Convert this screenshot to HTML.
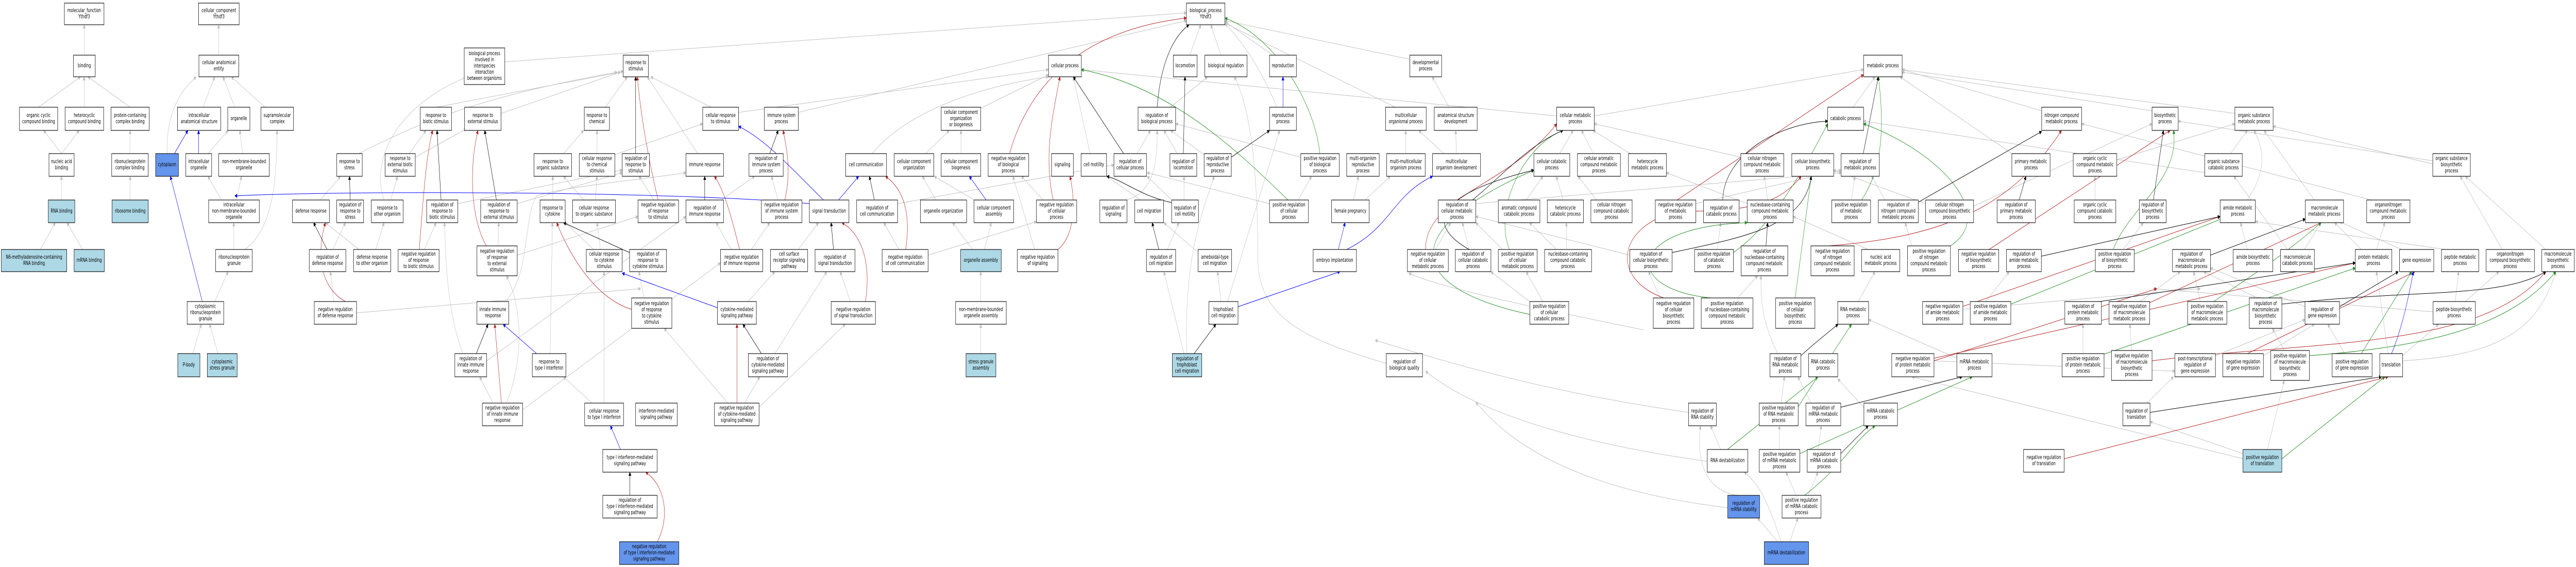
<!DOCTYPE html>
<html><head><meta charset="utf-8"><style>
html,body{margin:0;padding:0;background:#fff;width:100%;height:100%;overflow:hidden}
svg{display:block;position:absolute;left:0;top:0;width:100vw;height:100vh}
.nd rect{fill:#fff;stroke:#111;stroke-width:1.2}
.nd rect.lb{fill:#add8e6}.nd rect.bl{fill:#6495ed}
.nd text{font-family:"DejaVu Sans","Liberation Sans",sans-serif;font-size:10.5px;text-anchor:middle;dominant-baseline:central;fill:#000}
</style></head><body>
<svg viewBox="0 0 7680 1100" preserveAspectRatio="none" xmlns="http://www.w3.org/2000/svg">
<rect x="0" y="0" width="7680" height="1100" fill="#fff"/>
<defs>
<marker id="mg" markerWidth="8" markerHeight="8" refX="7" refY="4" orient="auto" markerUnits="userSpaceOnUse"><path d="M0,0L8,4L0,8z" fill="#c0c0c0"/></marker>
<marker id="mr" markerWidth="8" markerHeight="8" refX="7" refY="4" orient="auto" markerUnits="userSpaceOnUse"><path d="M0,0L8,4L0,8z" fill="#b22222"/></marker>
<marker id="mn" markerWidth="8" markerHeight="8" refX="7" refY="4" orient="auto" markerUnits="userSpaceOnUse"><path d="M0,0L8,4L0,8z" fill="#228b22"/></marker>
<marker id="mk" markerWidth="8" markerHeight="8" refX="7" refY="4" orient="auto" markerUnits="userSpaceOnUse"><path d="M0,0L8,4L0,8z" fill="#000"/></marker>
<marker id="mb" markerWidth="8" markerHeight="8" refX="7" refY="4" orient="auto" markerUnits="userSpaceOnUse"><path d="M0,0L8,4L0,8z" fill="#00f"/></marker>
</defs>
<g stroke="#c0c0c0" stroke-width="1" fill="none" marker-end="url(#mg)">
<line x1="251" y1="107" x2="251" y2="48"/><line x1="115" y1="208" x2="240" y2="149"/><line x1="251" y1="208" x2="251" y2="149"/><line x1="388" y1="208" x2="262" y2="149"/>
<line x1="183" y1="298" x2="130" y2="253"/><line x1="183" y1="298" x2="236" y2="253"/><line x1="387" y1="298" x2="388" y2="253"/><line x1="183" y1="388" x2="183" y2="342"/><line x1="388" y1="388" x2="388" y2="342"/>
<line x1="120" y1="484" x2="165" y2="432"/><line x1="246" y1="484" x2="200" y2="432"/>
<line x1="652" y1="107" x2="652" y2="48"/><line x1="605" y1="208" x2="640" y2="149"/><line x1="700" y1="208" x2="665" y2="149"/><line x1="790" y1="208" x2="690" y2="149"/>
<path d="M498,298 C495,200 560,165 585,149"/><line x1="620" y1="298" x2="680" y2="253"/><line x1="723" y1="298" x2="715" y2="253"/><line x1="660" y1="388" x2="620" y2="342"/><line x1="705" y1="388" x2="720" y2="342"/>
<line x1="697" y1="484" x2="697" y2="432"/><path d="M730,484 C800,450 826,380 826,253"/><line x1="640" y1="585" x2="680" y2="527"/><line x1="575" y1="686" x2="600" y2="629"/><line x1="650" y1="686" x2="625" y2="629"/>
<path d="M1070,298 C1300,220 1500,180 1840,140"/><line x1="955" y1="388" x2="1015" y2="342"/><line x1="1070" y1="484" x2="970" y2="432"/><line x1="1165" y1="388" x2="1185" y2="342"/>
<path d="M1145,388 C1100,300 1200,200 1390,150"/><line x1="1220" y1="298" x2="1270" y2="253"/><line x1="1238" y1="305" x2="1390" y2="250"/>
<line x1="992" y1="484" x2="1030" y2="432"/><line x1="1120" y1="484" x2="1145" y2="432"/><line x1="1265" y1="484" x2="1300" y2="432"/><line x1="995" y1="585" x2="985" y2="527"/>
<line x1="1063" y1="607" x2="1910" y2="560"/><line x1="1300" y1="208" x2="1850" y2="140"/><line x1="1505" y1="120" x2="3537" y2="25"/><line x1="1494" y1="220" x2="1858" y2="138"/>
<line x1="1365" y1="395" x2="1855" y2="330"/><line x1="1542" y1="395" x2="1855" y2="335"/><line x1="1485" y1="477" x2="1487" y2="432"/><line x1="1542" y1="495" x2="1902" y2="420"/>
<path d="M1505,585 C1580,540 1560,420 1600,380 C1700,360 1900,350 2045,335"/><path d="M1380,686 C1330,600 1330,500 1325,432"/><line x1="1451" y1="700" x2="2045" y2="420"/>
<line x1="1470" y1="782" x2="1430" y2="731"/><path d="M1510,782 C1560,700 1560,600 1510,535"/><line x1="1558" y1="795" x2="2148" y2="510"/>
<line x1="1640" y1="686" x2="1647" y2="432"/><line x1="1765" y1="782" x2="1680" y2="731"/><line x1="1801" y1="782" x2="1801" y2="527"/>
<line x1="1805" y1="208" x2="1870" y2="149"/><line x1="1680" y1="298" x2="1740" y2="253"/><line x1="1780" y1="298" x2="1780" y2="253"/><line x1="1833" y1="300" x2="2095" y2="240"/>
<line x1="1648" y1="388" x2="1648" y2="342"/><line x1="1740" y1="388" x2="1680" y2="342"/><line x1="1775" y1="388" x2="1780" y2="342"/><line x1="1790" y1="484" x2="1780" y2="432"/><line x1="1770" y1="484" x2="1685" y2="432"/>
<line x1="1920" y1="578" x2="1905" y2="527"/><line x1="1950" y1="388" x2="1905" y2="342"/><line x1="2120" y1="208" x2="1940" y2="149"/><line x1="2080" y1="298" x2="1930" y2="149"/>
<line x1="2202" y1="218" x2="3126" y2="135"/><line x1="2380" y1="218" x2="3537" y2="40"/><line x1="2150" y1="388" x2="2250" y2="342"/><line x1="2320" y1="388" x2="2300" y2="342"/>
<line x1="2180" y1="484" x2="2135" y2="432"/><line x1="2240" y1="484" x2="2295" y2="432"/><line x1="2380" y1="484" x2="2440" y2="432"/><line x1="2535" y1="585" x2="2505" y2="527"/>
<line x1="2230" y1="585" x2="2310" y2="527"/><line x1="2220" y1="782" x2="2265" y2="731"/><line x1="2263" y1="790" x2="2520" y2="629"/><line x1="2310" y1="686" x2="2465" y2="527"/><line x1="2170" y1="782" x2="1980" y2="637"/>
<line x1="2676" y1="395" x2="3321" y2="320"/><path d="M2600,298 C2700,220 2900,170 3126,149"/><line x1="2680" y1="484" x2="2635" y2="432"/><line x1="2767" y1="495" x2="3090" y2="430"/>
<line x1="3085" y1="484" x2="3020" y2="342"/><line x1="2924" y1="210" x2="3126" y2="145"/><line x1="2760" y1="298" x2="2830" y2="253"/><line x1="2865" y1="298" x2="2865" y2="253"/>
<line x1="2790" y1="388" x2="2750" y2="342"/><line x1="2905" y1="388" x2="2785" y2="342"/><line x1="2900" y1="484" x2="2840" y2="432"/><line x1="2935" y1="484" x2="2955" y2="432"/>
<line x1="2924" y1="585" x2="2924" y2="527"/><line x1="2924" y1="686" x2="2924" y2="629"/><line x1="3110" y1="388" x2="3045" y2="342"/>
<line x1="3547" y1="107" x2="3580" y2="48"/><line x1="3640" y1="107" x2="3610" y2="48"/><line x1="3795" y1="107" x2="3652" y2="42"/><path d="M3807,208 C3750,120 3700,80 3652,45"/>
<line x1="3490" y1="208" x2="3600" y2="149"/><line x1="3250" y1="298" x2="3200" y2="149"/><line x1="3390" y1="298" x2="3430" y2="253"/><line x1="3510" y1="298" x2="3470" y2="253"/>
<line x1="3590" y1="300" x2="3490" y2="253"/><line x1="3878" y1="305" x2="3505" y2="240"/><path d="M3360,388 C3440,370 3450,320 3450,253"/><line x1="3400" y1="388" x2="3300" y2="342"/>
<line x1="3493" y1="388" x2="3420" y2="342"/><line x1="3530" y1="388" x2="3530" y2="342"/><line x1="3870" y1="388" x2="3910" y2="342"/><line x1="3785" y1="395" x2="3420" y2="335"/>
<line x1="3480" y1="484" x2="3515" y2="432"/><line x1="3572" y1="490" x2="3470" y2="432"/><line x1="3640" y1="585" x2="3630" y2="527"/><line x1="3660" y1="585" x2="3815" y2="253"/>
<line x1="3530" y1="686" x2="3470" y2="527"/><path d="M3538,686 C3530,500 3580,420 3620,342"/><path d="M4133,705 C3900,660 3750,620 3750,500 C3750,300 3720,200 3680,149"/>
<line x1="4203" y1="115" x2="3652" y2="40"/><line x1="4160" y1="208" x2="3652" y2="45"/><line x1="4320" y1="208" x2="4270" y2="149"/><line x1="4191" y1="298" x2="4191" y2="253"/>
<line x1="4342" y1="298" x2="4340" y2="253"/><line x1="4305" y1="298" x2="4230" y2="253"/><line x1="4035" y1="388" x2="4050" y2="342"/><line x1="4070" y1="388" x2="4145" y2="342"/>
<line x1="4641" y1="225" x2="3224" y2="135"/><line x1="4753" y1="225" x2="5556" y2="135"/><line x1="4650" y1="298" x2="4690" y2="253"/><line x1="4400" y1="395" x2="5489" y2="335"/>
<line x1="4550" y1="388" x2="4600" y2="342"/><line x1="4660" y1="388" x2="4640" y2="342"/><line x1="4280" y1="484" x2="4325" y2="432"/><line x1="4380" y1="484" x2="4360" y2="432"/>
<line x1="4480" y1="484" x2="4400" y2="432"/><line x1="4670" y1="484" x2="4670" y2="432"/><line x1="4640" y1="484" x2="4560" y2="432"/><line x1="4600" y1="585" x2="4550" y2="527"/><line x1="4570" y1="590" x2="4445" y2="527"/>
<line x1="4750" y1="298" x2="4715" y2="253"/><line x1="4860" y1="298" x2="4750" y2="253"/><line x1="5190" y1="305" x2="4753" y2="240"/><line x1="4760" y1="388" x2="4705" y2="342"/>
<line x1="5056" y1="395" x2="5489" y2="330"/><line x1="5270" y1="388" x2="5260" y2="342"/><line x1="5209" y1="395" x2="4968" y2="335"/><line x1="4859" y1="495" x2="4400" y2="420"/>
<line x1="5120" y1="484" x2="5130" y2="432"/><line x1="4950" y1="578" x2="4915" y2="527"/><line x1="5180" y1="578" x2="5240" y2="535"/><path d="M5300,686 C5250,620 5250,580 5250,535"/>
<line x1="5310" y1="782" x2="5320" y2="731"/><line x1="5400" y1="782" x2="5360" y2="731"/><line x1="5130" y1="872" x2="5100" y2="826"/><line x1="5420" y1="872" x2="5430" y2="826"/><line x1="5305" y1="872" x2="5305" y2="826"/>
<path d="M5180,961 C5070,950 5060,880 5070,826"/><line x1="5355" y1="961" x2="5325" y2="916"/><line x1="5390" y1="961" x2="5420" y2="916"/><line x1="5300" y1="1051" x2="5240" y2="1005"/>
<line x1="5336" y1="1051" x2="5360" y2="1005"/><path d="M5310,1051 C5280,990 5250,940 5200,916"/>
<path d="M4900,640 C4600,600 4300,560 4200,530"/><path d="M5034,800 C4600,760 4300,700 4100,660"/><path d="M5090,895 C4700,860 4400,800 4250,720"/><path d="M5151,985 C4700,950 4500,860 4400,780"/>
<line x1="5525" y1="208" x2="5590" y2="149"/><line x1="6087" y1="215" x2="5671" y2="135"/><line x1="5998" y1="298" x2="5665" y2="149"/><line x1="6416" y1="215" x2="5671" y2="140"/><line x1="6663" y1="220" x2="5671" y2="135"/>
<line x1="5520" y1="388" x2="5530" y2="342"/><line x1="5620" y1="388" x2="5580" y2="342"/><line x1="5570" y1="484" x2="5346" y2="420"/><line x1="5700" y1="477" x2="5680" y2="432"/>
<line x1="5540" y1="585" x2="5590" y2="527"/><line x1="5920" y1="585" x2="5990" y2="527"/><line x1="5834" y1="695" x2="5571" y2="620"/><line x1="5557" y1="790" x2="5479" y2="735"/>
<line x1="5741" y1="395" x2="5467" y2="330"/><line x1="5884" y1="400" x2="6416" y2="240"/><line x1="5852" y1="600" x2="6560" y2="560"/><line x1="5766" y1="700" x2="6484" y2="720"/>
<line x1="6400" y1="782" x2="6480" y2="731"/><line x1="6687" y1="880" x2="6410" y2="818"/><line x1="6760" y1="872" x2="6810" y2="738"/><line x1="6687" y1="890" x2="5700" y2="731"/>
<line x1="6311" y1="310" x2="6663" y2="240"/><line x1="6650" y1="298" x2="6700" y2="253"/><line x1="6246" y1="388" x2="6246" y2="342"/><line x1="6573" y1="335" x2="5556" y2="235"/>
<path d="M6700,388 C6760,330 6750,290 6720,253"/><line x1="6900" y1="388" x2="6750" y2="253"/><line x1="6330" y1="484" x2="6390" y2="432"/><line x1="6700" y1="484" x2="6680" y2="432"/>
<line x1="6870" y1="484" x2="6920" y2="432"/><line x1="6820" y1="484" x2="6660" y2="342"/><line x1="6380" y1="585" x2="6500" y2="527"/><line x1="6560" y1="585" x2="6540" y2="527"/>
<line x1="6730" y1="578" x2="6570" y2="527"/><line x1="6872" y1="595" x2="6590" y2="520"/><line x1="6210" y1="686" x2="6210" y2="629"/><line x1="6355" y1="680" x2="6350" y2="629"/>
<line x1="6605" y1="690" x2="6872" y2="620"/><line x1="6748" y1="690" x2="6900" y2="629"/><line x1="6810" y1="680" x2="6775" y2="637"/>
<line x1="7253" y1="312" x2="6494" y2="235"/><line x1="7253" y1="318" x2="6777" y2="245"/><line x1="7070" y1="388" x2="6206" y2="240"/><line x1="7040" y1="484" x2="6960" y2="432"/><line x1="7085" y1="484" x2="7110" y2="432"/>
<line x1="7160" y1="484" x2="6975" y2="430"/><line x1="7290" y1="484" x2="6724" y2="430"/><line x1="7460" y1="484" x2="7335" y2="342"/><line x1="7590" y1="484" x2="7350" y2="342"/>
<line x1="7320" y1="585" x2="7330" y2="527"/><line x1="7350" y1="585" x2="7450" y2="527"/><line x1="6990" y1="686" x2="6940" y2="629"/><line x1="7120" y1="686" x2="7085" y2="527"/>
<line x1="7163" y1="690" x2="7270" y2="629"/><path d="M7163,700 C7400,690 7560,660 7620,527"/><line x1="7254" y1="605" x2="6420" y2="560"/>
</g>
<g stroke="#b22222" stroke-width="1" fill="none" marker-end="url(#mr)">
<path d="M1030,585 C960,560 940,500 970,432"/><path d="M1250,484 C1260,400 1270,300 1290,253"/><path d="M1450,477 C1400,420 1400,320 1425,253"/><line x1="1495" y1="782" x2="1475" y2="629"/>
<path d="M1883,600 C1780,580 1700,500 1660,432"/><path d="M2340,388 C2360,330 2345,290 2335,253"/><path d="M2205,484 C2180,420 2160,370 2130,342"/><path d="M2580,585 C2600,500 2560,450 2510,432"/>
<line x1="2197" y1="782" x2="2197" y2="629"/><path d="M1960,1051 C2000,1000 1980,940 1925,916"/><path d="M2700,484 C2720,400 2680,360 2640,342"/><path d="M3010,298 C3060,180 3200,60 3537,35"/>
<path d="M3140,388 C3110,300 3140,220 3160,149"/><path d="M3154,484 C3200,460 3210,400 3190,342"/><line x1="5000" y1="388" x2="5556" y2="145"/><path d="M4250,484 C4250,380 4500,360 4641,240"/>
<path d="M4960,578 C4800,540 4820,440 5000,410 C5200,410 5300,400 5370,342"/><path d="M5450,477 C5800,460 6000,400 6146,253"/><line x1="5930" y1="484" x2="6470" y2="253"/><line x1="5850" y1="595" x2="6619" y2="420"/>
<line x1="5766" y1="695" x2="7022" y2="510"/><line x1="6400" y1="590" x2="6920" y2="432"/><path d="M6416,700 C6900,660 7400,680 7590,527"/><line x1="6700" y1="686" x2="7200" y2="527"/>
<line x1="6154" y1="890" x2="7120" y2="731"/><path d="M1962,388 C1930,300 1910,220 1900,149"/><line x1="5766" y1="700" x2="6430" y2="560"/>
</g>
<g stroke="#228b22" stroke-width="1" fill="none" marker-end="url(#mn)">
<path d="M3935,298 C3920,200 3800,70 3652,35"/><path d="M3840,388 C3700,300 3500,170 3224,135"/><path d="M4500,484 C4450,400 4550,280 4660,253"/><path d="M4561,610 C4200,560 4150,450 4573,330"/>
<path d="M5100,578 C4830,560 4850,440 5209,432"/><line x1="5352" y1="578" x2="5400" y2="342"/><path d="M5550,388 C5610,330 5620,250 5600,149"/><path d="M5815,477 C5950,420 5800,300 5556,240"/>
<line x1="5360" y1="790" x2="5520" y2="629"/><line x1="5366" y1="880" x2="5880" y2="731"/><path d="M5380,961 C5500,900 5520,860 5590,826"/><line x1="5150" y1="872" x2="5420" y2="731"/>
<path d="M6300,484 C6350,400 6500,350 6480,253"/><path d="M6600,585 C6700,540 6800,500 6920,432"/><line x1="5995" y1="590" x2="6640" y2="420"/><line x1="6260" y1="690" x2="7022" y2="520"/>
<path d="M6885,690 C7300,670 7500,620 7620,527"/><line x1="7040" y1="686" x2="7190" y2="527"/><line x1="6803" y1="890" x2="7110" y2="731"/><path d="M5168,490 C5300,430 5400,300 5449,240"/>
</g>
<g stroke="#000" stroke-width="1" fill="none" marker-end="url(#mk)">
<line x1="975" y1="484" x2="935" y2="432"/><line x1="1044" y1="388" x2="1042" y2="342"/><line x1="1315" y1="388" x2="1303" y2="253"/><line x1="1480" y1="388" x2="1445" y2="253"/>
<line x1="1420" y1="686" x2="1455" y2="629"/><line x1="1895" y1="298" x2="1895" y2="149"/><line x1="1877" y1="490" x2="1680" y2="432"/><line x1="1878" y1="961" x2="1878" y2="916"/>
<line x1="2101" y1="388" x2="2101" y2="342"/><line x1="2295" y1="298" x2="2320" y2="253"/><line x1="2485" y1="484" x2="2478" y2="432"/><line x1="2270" y1="686" x2="2215" y2="629"/>
<line x1="2607" y1="388" x2="2592" y2="342"/><path d="M3450,208 C3460,120 3500,70 3545,48"/><line x1="3350" y1="298" x2="3200" y2="149"/><line x1="3528" y1="298" x2="3533" y2="149"/>
<line x1="3671" y1="305" x2="3785" y2="253"/><path d="M3493,393 C3400,380 3350,350 3300,342"/><line x1="3455" y1="484" x2="3435" y2="432"/><line x1="3560" y1="686" x2="3625" y2="629"/>
<path d="M4390,388 C4480,340 4560,280 4660,253"/><path d="M4380,484 C4260,440 4260,380 4573,330"/><line x1="5555" y1="298" x2="5600" y2="149"/><line x1="5720" y1="392" x2="6087" y2="255"/>
<line x1="6020" y1="388" x2="6040" y2="342"/><path d="M5136,388 C5140,300 5300,240 5449,235"/><path d="M4985,490 C5200,460 5380,440 5400,342"/><line x1="5265" y1="477" x2="5270" y2="432"/>
<path d="M5369,690 C5420,660 5460,640 5480,629"/><line x1="6086" y1="497" x2="6619" y2="420"/><line x1="6420" y1="388" x2="6450" y2="253"/><line x1="6590" y1="495" x2="6873" y2="425"/>
<line x1="6260" y1="585" x2="7022" y2="510"/><line x1="6975" y1="595" x2="7150" y2="527"/><line x1="6410" y1="800" x2="7100" y2="731"/><path d="M6803,590 C7200,560 7450,580 7590,527"/>
<line x1="5488" y1="790" x2="5850" y2="731"/><line x1="5488" y1="880" x2="5570" y2="826"/>
</g>
<g stroke="#0000ff" stroke-width="1" fill="none" marker-end="url(#mb)">
<line x1="520" y1="298" x2="560" y2="253"/><line x1="592" y1="298" x2="592" y2="253"/><line x1="603" y1="585" x2="508" y2="342"/>
<line x1="1600" y1="686" x2="1500" y2="629"/><line x1="1850" y1="872" x2="1820" y2="826"/><line x1="2139" y1="597" x2="1855" y2="530"/><path d="M2455,388 C2350,320 2280,270 2202,245"/>
<line x1="2500" y1="388" x2="2560" y2="342"/><line x1="2940" y1="388" x2="2890" y2="342"/><line x1="3825" y1="208" x2="3825" y2="149"/><line x1="3990" y1="484" x2="4010" y2="432"/>
<path d="M4015,484 C4150,440 4150,380 4271,342"/><line x1="3691" y1="595" x2="3995" y2="527"/><path d="M7130,686 C7160,640 7180,580 7195,527"/><path d="M2413,395 C2000,370 1000,370 700,380"/>
</g>

<g class="nd">
<rect x="192" y="6" width="118" height="42"/><text x="251" y="21">molecular_function<tspan x="251" dy="12">Ythdf3</tspan></text>
<rect x="219" y="107" width="65" height="42"/><text x="251.5" y="128">binding</text>
<rect x="58" y="208" width="114" height="45"/><text x="115" y="224.5">organic cyclic<tspan x="115" dy="12">compound binding</tspan></text>
<rect x="194" y="208" width="115" height="45"/><text x="251.5" y="224.5">heterocyclic<tspan x="251.5" dy="12">compound binding</tspan></text>
<rect x="331" y="208" width="114" height="45"/><text x="388" y="224.5">protein-containing<tspan x="388" dy="12">complex binding</tspan></text>
<rect x="146" y="298" width="75" height="44"/><text x="183.5" y="314">nucleic acid<tspan x="183.5" dy="12">binding</tspan></text>
<rect x="333" y="298" width="109" height="44"/><text x="387.5" y="314">ribonucleoprotein<tspan x="387.5" dy="12">complex binding</tspan></text>
<rect class="lb" x="144" y="388" width="79" height="44"/><text x="183.5" y="410">RNA binding</text>
<rect class="lb" x="334" y="388" width="108" height="44"/><text x="388" y="410">ribosome binding</text>
<rect class="lb" x="4" y="484" width="195" height="43"/><text x="101.5" y="499.5">N6-methyladenosine-containing<tspan x="101.5" dy="12">RNA binding</tspan></text>
<rect class="lb" x="221" y="484" width="90" height="43"/><text x="266" y="505.5">mRNA binding</text>
<rect x="592" y="6" width="121" height="42"/><text x="652.5" y="21">cellular_component<tspan x="652.5" dy="12">Ythdf3</tspan></text>
<rect x="593" y="107" width="119" height="42"/><text x="652.5" y="122">cellular anatomical<tspan x="652.5" dy="12">entity</tspan></text>
<rect x="529" y="208" width="129" height="45"/><text x="593.5" y="224.5">intracellular<tspan x="593.5" dy="12">anatomical structure</tspan></text>
<rect x="679" y="208" width="66" height="45"/><text x="712" y="230.5">organelle</text>
<rect x="778" y="208" width="97" height="45"/><text x="826.5" y="224.5">supramolecular<tspan x="826.5" dy="12">complex</tspan></text>
<rect class="bl" x="464" y="298" width="68" height="44"/><text x="498" y="320">cytoplasm</text>
<rect x="554" y="298" width="77" height="44"/><text x="592.5" y="314">intracellular<tspan x="592.5" dy="12">organelle</tspan></text>
<rect x="652" y="298" width="151" height="44"/><text x="727.5" y="314">non-membrane-bounded<tspan x="727.5" dy="12">organelle</tspan></text>
<rect x="622" y="388" width="151" height="44"/><text x="697.5" y="398">intracellular<tspan x="697.5" dy="12">non-membrane-bounded</tspan><tspan x="697.5" dy="12">organelle</tspan></text>
<rect x="643" y="484" width="109" height="43"/><text x="697.5" y="499.5">ribonucleoprotein<tspan x="697.5" dy="12">granule</tspan></text>
<rect x="558" y="585" width="109" height="44"/><text x="612.5" y="595">cytoplasmic<tspan x="612.5" dy="12">ribonucleoprotein</tspan><tspan x="612.5" dy="12">granule</tspan></text>
<rect class="lb" x="530" y="686" width="66" height="45"/><text x="563" y="708.5">P-body</text>
<rect class="lb" x="618" y="686" width="89" height="45"/><text x="662.5" y="702.5">cytoplasmic<tspan x="662.5" dy="12">stress granule</tspan></text>

<rect x="1004" y="298" width="76" height="44"/><text x="1042" y="314">response to<tspan x="1042" dy="12">stress</tspan></text>
<rect x="872" y="388" width="110" height="44"/><text x="927" y="410">defense response</text>
<rect x="1004" y="388" width="80" height="44"/><text x="1044" y="398">regulation of<tspan x="1044" dy="12">response to</tspan><tspan x="1044" dy="12">stress</tspan></text>
<rect x="1148" y="298" width="90" height="44"/><text x="1193" y="308">response to<tspan x="1193" dy="12">external biotic</tspan><tspan x="1193" dy="12">stimulus</tspan></text>
<rect x="1107" y="388" width="95" height="44"/><text x="1154.5" y="404">response to<tspan x="1154.5" dy="12">other organism</tspan></text>
<rect x="922" y="484" width="109" height="43"/><text x="976.5" y="499.5">regulation of<tspan x="976.5" dy="12">defense response</tspan></text>
<rect x="1054" y="484" width="111" height="43"/><text x="1109.5" y="499.5">defense response<tspan x="1109.5" dy="12">to other organism</tspan></text>
<rect x="1187" y="484" width="122" height="43"/><text x="1248" y="493.5">negative regulation<tspan x="1248" dy="12">of response</tspan><tspan x="1248" dy="12">to biotic stimulus</tspan></text>
<rect x="937" y="585" width="126" height="44"/><text x="1000" y="601">negative regulation<tspan x="1000" dy="12">of defense response</tspan></text>
<rect x="1253" y="208" width="93" height="45"/><text x="1299.5" y="224.5">response to<tspan x="1299.5" dy="12">biotic stimulus</tspan></text>
<rect x="1272" y="388" width="93" height="44"/><text x="1318.5" y="398">regulation of<tspan x="1318.5" dy="12">response to</tspan><tspan x="1318.5" dy="12">biotic stimulus</tspan></text>
<rect x="1384" y="93" width="121" height="71"/><text x="1444.5" y="104.5">biological process<tspan x="1444.5" dy="12">involved in</tspan><tspan x="1444.5" dy="12">interspecies</tspan><tspan x="1444.5" dy="12">interaction</tspan><tspan x="1444.5" dy="12">between organisms</tspan></text>
<rect x="1385" y="208" width="109" height="45"/><text x="1439.5" y="224.5">response to<tspan x="1439.5" dy="12">external stimulus</tspan></text>
<rect x="1858" y="107" width="75" height="42"/><text x="1895.5" y="122">response to<tspan x="1895.5" dy="12">stimulus</tspan></text>
<rect x="1742" y="208" width="75" height="45"/><text x="1779.5" y="224.5">response to<tspan x="1779.5" dy="12">chemical</tspan></text>
<rect x="1592" y="298" width="112" height="44"/><text x="1648" y="314">response to<tspan x="1648" dy="12">organic substance</tspan></text>
<rect x="1727" y="298" width="106" height="44"/><text x="1780" y="308">cellular response<tspan x="1780" dy="12">to chemical</tspan><tspan x="1780" dy="12">stimulus</tspan></text>
<rect x="1855" y="298" width="81" height="44"/><text x="1895.5" y="308">regulation of<tspan x="1895.5" dy="12">response to</tspan><tspan x="1895.5" dy="12">stimulus</tspan></text>
<rect x="1433" y="388" width="109" height="44"/><text x="1487.5" y="398">regulation of<tspan x="1487.5" dy="12">response to</tspan><tspan x="1487.5" dy="12">external stimulus</tspan></text>
<rect x="1610" y="388" width="75" height="44"/><text x="1647.5" y="404">response to<tspan x="1647.5" dy="12">cytokine</tspan></text>
<rect x="1707" y="388" width="128" height="44"/><text x="1771" y="404">cellular response<tspan x="1771" dy="12">to organic substance</tspan></text>
<rect x="1902" y="388" width="121" height="44"/><text x="1962.5" y="398">negative regulation<tspan x="1962.5" dy="12">of response</tspan><tspan x="1962.5" dy="12">to stimulus</tspan></text>
<rect x="1422" y="477" width="120" height="58"/><text x="1482" y="488">negative regulation<tspan x="1482" dy="12">of response</tspan><tspan x="1482" dy="12">to external</tspan><tspan x="1482" dy="12">stimulus</tspan></text>
<rect x="1748" y="484" width="107" height="43"/><text x="1801.5" y="493.5">cellular response<tspan x="1801.5" dy="12">to cytokine</tspan><tspan x="1801.5" dy="12">stimulus</tspan></text>
<rect x="1877" y="484" width="110" height="43"/><text x="1932" y="493.5">regulation of<tspan x="1932" dy="12">response to</tspan><tspan x="1932" dy="12">cytokine stimulus</tspan></text>
<rect x="1422" y="585" width="95" height="44"/><text x="1469.5" y="601">innate immune<tspan x="1469.5" dy="12">response</tspan></text>
<rect x="1883" y="578" width="120" height="59"/><text x="1943" y="589.5">negative regulation<tspan x="1943" dy="12">of response</tspan><tspan x="1943" dy="12">to cytokine</tspan><tspan x="1943" dy="12">stimulus</tspan></text>
<rect x="1356" y="686" width="95" height="45"/><text x="1403.5" y="696.5">regulation of<tspan x="1403.5" dy="12">innate immune</tspan><tspan x="1403.5" dy="12">response</tspan></text>
<rect x="1587" y="686" width="100" height="45"/><text x="1637" y="702.5">response to<tspan x="1637" dy="12">type I interferon</tspan></text>
<rect x="1438" y="782" width="120" height="44"/><text x="1498" y="792">negative regulation<tspan x="1498" dy="12">of innate immune</tspan><tspan x="1498" dy="12">response</tspan></text>
<rect x="1743" y="782" width="116" height="44"/><text x="1801" y="798">cellular response<tspan x="1801" dy="12">to type I interferon</tspan></text>
<rect x="1895" y="782" width="124" height="44"/><text x="1957" y="798">interferon-mediated<tspan x="1957" dy="12">signaling pathway</tspan></text>
<rect x="1797" y="872" width="162" height="44"/><text x="1878" y="888">type I interferon-mediated<tspan x="1878" dy="12">signaling pathway</tspan></text>
<rect x="1797" y="961" width="162" height="44"/><text x="1878" y="971">regulation of<tspan x="1878" dy="12">type I interferon-mediated</tspan><tspan x="1878" dy="12">signaling pathway</tspan></text>
<rect class="bl" x="1847" y="1051" width="177" height="44"/><text x="1935.5" y="1061">negative regulation<tspan x="1935.5" dy="12">of type I interferon-mediated</tspan><tspan x="1935.5" dy="12">signaling pathway</tspan></text>

<rect x="2095" y="208" width="107" height="45"/><text x="2148.5" y="224.5">cellular response<tspan x="2148.5" dy="12">to stimulus</tspan></text>
<rect x="2279" y="208" width="101" height="45"/><text x="2329.5" y="224.5">immune system<tspan x="2329.5" dy="12">process</tspan></text>
<rect x="2045" y="298" width="112" height="44"/><text x="2101" y="320">immune response</text>
<rect x="2233" y="298" width="102" height="44"/><text x="2284" y="308">regulation of<tspan x="2284" dy="12">immune system</tspan><tspan x="2284" dy="12">process</tspan></text>
<rect x="2521" y="298" width="122" height="44"/><text x="2582" y="320">cell communication</text>
<rect x="2045" y="388" width="112" height="44"/><text x="2101" y="404">regulation of<tspan x="2101" dy="12">immune response</tspan></text>
<rect x="2270" y="388" width="121" height="44"/><text x="2330.5" y="398">negative regulation<tspan x="2330.5" dy="12">of immune system</tspan><tspan x="2330.5" dy="12">process</tspan></text>
<rect x="2413" y="388" width="118" height="44"/><text x="2472" y="410">signal transduction</text>
<rect x="2554" y="388" width="122" height="44"/><text x="2615" y="404">regulation of<tspan x="2615" dy="12">cell communication</tspan></text>
<rect x="2148" y="484" width="126" height="43"/><text x="2211" y="499.5">negative regulation<tspan x="2211" dy="12">of immune response</tspan></text>
<rect x="2297" y="484" width="111" height="43"/><text x="2352.5" y="493.5">cell surface<tspan x="2352.5" dy="12">receptor signaling</tspan><tspan x="2352.5" dy="12">pathway</tspan></text>
<rect x="2430" y="484" width="119" height="43"/><text x="2489.5" y="499.5">regulation of<tspan x="2489.5" dy="12">signal transduction</tspan></text>
<rect x="2139" y="585" width="116" height="44"/><text x="2197" y="601">cytokine-mediated<tspan x="2197" dy="12">signaling pathway</tspan></text>
<rect x="2478" y="585" width="132" height="44"/><text x="2544" y="601">negative regulation<tspan x="2544" dy="12">of signal transduction</tspan></text>
<rect x="2231" y="686" width="117" height="45"/><text x="2289.5" y="696.5">regulation of<tspan x="2289.5" dy="12">cytokine-mediated</tspan><tspan x="2289.5" dy="12">signaling pathway</tspan></text>
<rect x="2130" y="782" width="133" height="44"/><text x="2196.5" y="792">negative regulation<tspan x="2196.5" dy="12">of cytokine-mediated</tspan><tspan x="2196.5" dy="12">signaling pathway</tspan></text>

<rect x="2806" y="208" width="118" height="45"/><text x="2865" y="218.5">cellular component<tspan x="2865" dy="12">organization</tspan><tspan x="2865" dy="12">or biogenesis</tspan></text>
<rect x="3126" y="107" width="98" height="42"/><text x="3175" y="128">cellular process</text>
<rect x="2666" y="298" width="118" height="44"/><text x="2725" y="314">cellular component<tspan x="2725" dy="12">organization</tspan></text>
<rect x="2806" y="298" width="118" height="44"/><text x="2865" y="314">cellular component<tspan x="2865" dy="12">biogenesis</tspan></text>
<rect x="2946" y="298" width="121" height="44"/><text x="3006.5" y="308">negative regulation<tspan x="3006.5" dy="12">of biological</tspan><tspan x="3006.5" dy="12">process</tspan></text>
<rect x="3135" y="298" width="65" height="44"/><text x="3167.5" y="320">signaling</text>
<rect x="2744" y="388" width="138" height="44"/><text x="2813" y="410">organelle organization</text>
<rect x="2904" y="388" width="118" height="44"/><text x="2963" y="404">cellular component<tspan x="2963" dy="12">assembly</tspan></text>
<rect x="3090" y="388" width="120" height="44"/><text x="3150" y="398">negative regulation<tspan x="3150" dy="12">of cellular</tspan><tspan x="3150" dy="12">process</tspan></text>
<rect x="2630" y="484" width="137" height="43"/><text x="2698.5" y="499.5">negative regulation<tspan x="2698.5" dy="12">of cell communication</tspan></text>
<rect class="lb" x="2864" y="484" width="121" height="43"/><text x="2924.5" y="505.5">organelle assembly</text>
<rect x="3033" y="484" width="121" height="43"/><text x="3093.5" y="499.5">negative regulation<tspan x="3093.5" dy="12">of signaling</tspan></text>
<rect x="2849" y="585" width="151" height="44"/><text x="2924.5" y="601">non-membrane-bounded<tspan x="2924.5" dy="12">organelle assembly</tspan></text>
<rect class="lb" x="2880" y="686" width="89" height="45"/><text x="2924.5" y="702.5">stress granule<tspan x="2924.5" dy="12">assembly</tspan></text>

<rect x="3537" y="6" width="115" height="42"/><text x="3594.5" y="21">biological_process<tspan x="3594.5" dy="12">Ythdf3</tspan></text>
<rect x="3498" y="107" width="71" height="42"/><text x="3533.5" y="128">locomotion</text>
<rect x="3592" y="107" width="126" height="42"/><text x="3655" y="128">biological regulation</text>
<rect x="3785" y="107" width="80" height="42"/><text x="3825" y="128">reproduction</text>
<rect x="3393" y="208" width="112" height="45"/><text x="3449" y="224.5">regulation of<tspan x="3449" dy="12">biological process</tspan></text>
<rect x="3785" y="208" width="80" height="45"/><text x="3825" y="224.5">reproductive<tspan x="3825" dy="12">process</tspan></text>
<rect x="3223" y="298" width="76" height="44"/><text x="3261" y="320">cell motility</text>
<rect x="3321" y="298" width="97" height="44"/><text x="3369.5" y="314">regulation of<tspan x="3369.5" dy="12">cellular process</tspan></text>
<rect x="3488" y="298" width="80" height="44"/><text x="3528" y="314">regulation of<tspan x="3528" dy="12">locomotion</tspan></text>
<rect x="3590" y="298" width="81" height="44"/><text x="3630.5" y="308">regulation of<tspan x="3630.5" dy="12">reproductive</tspan><tspan x="3630.5" dy="12">process</tspan></text>
<rect x="3878" y="298" width="115" height="44"/><text x="3935.5" y="308">positive regulation<tspan x="3935.5" dy="12">of biological</tspan><tspan x="3935.5" dy="12">process</tspan></text>
<rect x="3279" y="388" width="81" height="44"/><text x="3319.5" y="404">regulation of<tspan x="3319.5" dy="12">signaling</tspan></text>
<rect x="3383" y="388" width="86" height="44"/><text x="3426" y="410">cell migration</text>
<rect x="3493" y="388" width="80" height="44"/><text x="3533" y="404">regulation of<tspan x="3533" dy="12">cell motility</tspan></text>
<rect x="3785" y="388" width="116" height="44"/><text x="3843" y="398">positive regulation<tspan x="3843" dy="12">of cellular</tspan><tspan x="3843" dy="12">process</tspan></text>
<rect x="3418" y="484" width="87" height="43"/><text x="3461.5" y="499.5">regulation of<tspan x="3461.5" dy="12">cell migration</tspan></text>
<rect x="3572" y="484" width="100" height="43"/><text x="3622" y="499.5">ameboidal-type<tspan x="3622" dy="12">cell migration</tspan></text>
<rect x="3915" y="484" width="129" height="43"/><text x="3979.5" y="505.5">embryo implantation</text>
<rect x="3604" y="585" width="87" height="44"/><text x="3647.5" y="601">trophoblast<tspan x="3647.5" dy="12">cell migration</tspan></text>
<rect class="lb" x="3495" y="686" width="88" height="45"/><text x="3539" y="696.5">regulation of<tspan x="3539" dy="12">trophoblast</tspan><tspan x="3539" dy="12">cell migration</tspan></text>

<rect x="4203" y="107" width="95" height="42"/><text x="4250.5" y="122">developmental<tspan x="4250.5" dy="12">process</tspan></text>
<rect x="4131" y="208" width="121" height="45"/><text x="4191.5" y="224.5">multicellular<tspan x="4191.5" dy="12">organismal process</tspan></text>
<rect x="4276" y="208" width="128" height="45"/><text x="4340" y="224.5">anatomical structure<tspan x="4340" dy="12">development</tspan></text>
<rect x="4641" y="208" width="112" height="45"/><text x="4697" y="224.5">cellular metabolic<tspan x="4697" dy="12">process</tspan></text>
<rect x="4015" y="298" width="97" height="44"/><text x="4063.5" y="308">multi-organism<tspan x="4063.5" dy="12">reproductive</tspan><tspan x="4063.5" dy="12">process</tspan></text>
<rect x="4134" y="298" width="115" height="44"/><text x="4191.5" y="314">multi-multicellular<tspan x="4191.5" dy="12">organism process</tspan></text>
<rect x="4271" y="298" width="143" height="44"/><text x="4342.5" y="314">multicellular<tspan x="4342.5" dy="12">organism development</tspan></text>
<rect x="4573" y="298" width="107" height="44"/><text x="4626.5" y="314">cellular catabolic<tspan x="4626.5" dy="12">process</tspan></text>
<rect x="3970" y="388" width="112" height="44"/><text x="4026" y="410">female pregnancy</text>
<rect x="4288" y="388" width="112" height="44"/><text x="4344" y="398">regulation of<tspan x="4344" dy="12">cellular metabolic</tspan><tspan x="4344" dy="12">process</tspan></text>
<rect x="4467" y="388" width="124" height="44"/><text x="4529" y="404">aromatic compound<tspan x="4529" dy="12">catabolic process</tspan></text>
<rect x="4613" y="388" width="108" height="44"/><text x="4667" y="404">heterocycle<tspan x="4667" dy="12">catabolic process</tspan></text>
<rect x="4196" y="484" width="122" height="43"/><text x="4257" y="493.5">negative regulation<tspan x="4257" dy="12">of cellular</tspan><tspan x="4257" dy="12">metabolic process</tspan></text>
<rect x="4339" y="484" width="106" height="43"/><text x="4392" y="493.5">regulation of<tspan x="4392" dy="12">cellular catabolic</tspan><tspan x="4392" dy="12">process</tspan></text>
<rect x="4467" y="484" width="116" height="43"/><text x="4525" y="493.5">positive regulation<tspan x="4525" dy="12">of cellular</tspan><tspan x="4525" dy="12">metabolic process</tspan></text>
<rect x="4605" y="484" width="140" height="43"/><text x="4675" y="493.5">nucleobase-containing<tspan x="4675" dy="12">compound catabolic</tspan><tspan x="4675" dy="12">process</tspan></text>
<rect x="4561" y="585" width="116" height="44"/><text x="4619" y="595">positive regulation<tspan x="4619" dy="12">of cellular</tspan><tspan x="4619" dy="12">catabolic process</tspan></text>
<rect x="4133" y="686" width="108" height="45"/><text x="4187" y="702.5">regulation of<tspan x="4187" dy="12">biological quality</tspan></text>

<rect x="4703" y="298" width="128" height="44"/><text x="4767" y="308">cellular aromatic<tspan x="4767" dy="12">compound metabolic</tspan><tspan x="4767" dy="12">process</tspan></text>
<rect x="4855" y="298" width="113" height="44"/><text x="4911.5" y="314">heterocycle<tspan x="4911.5" dy="12">metabolic process</tspan></text>
<rect x="5190" y="298" width="128" height="44"/><text x="5254" y="308">cellular nitrogen<tspan x="5254" dy="12">compound metabolic</tspan><tspan x="5254" dy="12">process</tspan></text>
<rect x="5342" y="298" width="125" height="44"/><text x="5404.5" y="314">cellular biosynthetic<tspan x="5404.5" dy="12">process</tspan></text>
<rect x="4743" y="388" width="123" height="44"/><text x="4804.5" y="398">cellular nitrogen<tspan x="4804.5" dy="12">compound catabolic</tspan><tspan x="4804.5" dy="12">process</tspan></text>
<rect x="4935" y="388" width="121" height="44"/><text x="4995.5" y="398">negative regulation<tspan x="4995.5" dy="12">of metabolic</tspan><tspan x="4995.5" dy="12">process</tspan></text>
<rect x="5079" y="388" width="106" height="44"/><text x="5132" y="404">regulation of<tspan x="5132" dy="12">catabolic process</tspan></text>
<rect x="5209" y="388" width="137" height="44"/><text x="5277.5" y="398">nucleobase-containing<tspan x="5277.5" dy="12">compound metabolic</tspan><tspan x="5277.5" dy="12">process</tspan></text>
<rect x="4859" y="484" width="126" height="43"/><text x="4922" y="493.5">regulation of<tspan x="4922" dy="12">cellular biosynthetic</tspan><tspan x="4922" dy="12">process</tspan></text>
<rect x="5052" y="484" width="116" height="43"/><text x="5110" y="493.5">positive regulation<tspan x="5110" dy="12">of catabolic</tspan><tspan x="5110" dy="12">process</tspan></text>
<rect x="5191" y="477" width="139" height="58"/><text x="5260.5" y="488">regulation of<tspan x="5260.5" dy="12">nucleobase-containing</tspan><tspan x="5260.5" dy="12">compound metabolic</tspan><tspan x="5260.5" dy="12">process</tspan></text>
<rect x="5399" y="477" width="129" height="58"/><text x="5463.5" y="488">negative regulation<tspan x="5463.5" dy="12">of nitrogen</tspan><tspan x="5463.5" dy="12">compound metabolic</tspan><tspan x="5463.5" dy="12">process</tspan></text>
<rect x="4929" y="578" width="121" height="59"/><text x="4989.5" y="589.5">negative regulation<tspan x="4989.5" dy="12">of cellular</tspan><tspan x="4989.5" dy="12">biosynthetic</tspan><tspan x="4989.5" dy="12">process</tspan></text>
<rect x="5072" y="578" width="154" height="59"/><text x="5149" y="589.5">positive regulation<tspan x="5149" dy="12">of nucleobase-containing</tspan><tspan x="5149" dy="12">compound metabolic</tspan><tspan x="5149" dy="12">process</tspan></text>
<rect x="5294" y="578" width="117" height="59"/><text x="5352.5" y="589.5">positive regulation<tspan x="5352.5" dy="12">of cellular</tspan><tspan x="5352.5" dy="12">biosynthetic</tspan><tspan x="5352.5" dy="12">process</tspan></text>
<rect x="5277" y="686" width="92" height="45"/><text x="5323" y="696.5">regulation of<tspan x="5323" dy="12">RNA metabolic</tspan><tspan x="5323" dy="12">process</tspan></text>
<rect x="5392" y="686" width="87" height="45"/><text x="5435.5" y="702.5">RNA catabolic<tspan x="5435.5" dy="12">process</tspan></text>
<rect x="5034" y="782" width="83" height="44"/><text x="5075.5" y="798">regulation of<tspan x="5075.5" dy="12">RNA stability</tspan></text>
<rect x="5245" y="782" width="116" height="44"/><text x="5303" y="792">positive regulation<tspan x="5303" dy="12">of RNA metabolic</tspan><tspan x="5303" dy="12">process</tspan></text>
<rect x="5384" y="782" width="104" height="44"/><text x="5436" y="792">regulation of<tspan x="5436" dy="12">mRNA metabolic</tspan><tspan x="5436" dy="12">process</tspan></text>
<rect x="5090" y="872" width="121" height="44"/><text x="5150.5" y="894">RNA destabilization</text>
<rect x="5245" y="872" width="121" height="44"/><text x="5305.5" y="882">positive regulation<tspan x="5305.5" dy="12">of mRNA metabolic</tspan><tspan x="5305.5" dy="12">process</tspan></text>
<rect x="5388" y="872" width="100" height="44"/><text x="5438" y="882">regulation of<tspan x="5438" dy="12">mRNA catabolic</tspan><tspan x="5438" dy="12">process</tspan></text>
<rect class="bl" x="5151" y="961" width="95" height="44"/><text x="5198.5" y="977">regulation of<tspan x="5198.5" dy="12">mRNA stability</tspan></text>
<rect x="5313" y="961" width="116" height="44"/><text x="5371" y="971">positive regulation<tspan x="5371" dy="12">of mRNA catabolic</tspan><tspan x="5371" dy="12">process</tspan></text>
<rect class="bl" x="5260" y="1051" width="132" height="44"/><text x="5326" y="1073">mRNA destabilization</text>

<rect x="5556" y="107" width="115" height="42"/><text x="5613.5" y="128">metabolic process</text>
<rect x="5449" y="208" width="107" height="45"/><text x="5502.5" y="230.5">catabolic process</text>
<rect x="6087" y="208" width="119" height="45"/><text x="6146.5" y="224.5">nitrogen compound<tspan x="6146.5" dy="12">metabolic process</tspan></text>
<rect x="5489" y="298" width="114" height="44"/><text x="5546" y="314">regulation of<tspan x="5546" dy="12">metabolic process</tspan></text>
<rect x="5998" y="298" width="114" height="44"/><text x="6055" y="314">primary metabolic<tspan x="6055" dy="12">process</tspan></text>
<rect x="5461" y="388" width="116" height="44"/><text x="5519" y="398">positive regulation<tspan x="5519" dy="12">of metabolic</tspan><tspan x="5519" dy="12">process</tspan></text>
<rect x="5600" y="388" width="119" height="44"/><text x="5659.5" y="398">regulation of<tspan x="5659.5" dy="12">nitrogen compound</tspan><tspan x="5659.5" dy="12">metabolic process</tspan></text>
<rect x="5741" y="388" width="143" height="44"/><text x="5812.5" y="398">cellular nitrogen<tspan x="5812.5" dy="12">compound biosynthetic</tspan><tspan x="5812.5" dy="12">process</tspan></text>
<rect x="5954" y="388" width="114" height="44"/><text x="6011" y="398">regulation of<tspan x="6011" dy="12">primary metabolic</tspan><tspan x="6011" dy="12">process</tspan></text>
<rect x="5550" y="484" width="114" height="43"/><text x="5607" y="499.5">nucleic acid<tspan x="5607" dy="12">metabolic process</tspan></text>
<rect x="5687" y="477" width="128" height="58"/><text x="5751" y="488">positive regulation<tspan x="5751" dy="12">of nitrogen</tspan><tspan x="5751" dy="12">compound metabolic</tspan><tspan x="5751" dy="12">process</tspan></text>
<rect x="5839" y="484" width="120" height="43"/><text x="5899" y="493.5">negative regulation<tspan x="5899" dy="12">of biosynthetic</tspan><tspan x="5899" dy="12">process</tspan></text>
<rect x="5982" y="484" width="104" height="43"/><text x="6034" y="493.5">regulation of<tspan x="6034" dy="12">amide metabolic</tspan><tspan x="6034" dy="12">process</tspan></text>
<rect x="5479" y="585" width="92" height="44"/><text x="5525" y="601">RNA metabolic<tspan x="5525" dy="12">process</tspan></text>
<rect x="5732" y="585" width="120" height="44"/><text x="5792" y="595">negative regulation<tspan x="5792" dy="12">of amide metabolic</tspan><tspan x="5792" dy="12">process</tspan></text>
<rect x="5874" y="585" width="121" height="44"/><text x="5934.5" y="595">positive regulation<tspan x="5934.5" dy="12">of amide metabolic</tspan><tspan x="5934.5" dy="12">process</tspan></text>
<rect x="5640" y="686" width="126" height="45"/><text x="5703" y="696.5">negative regulation<tspan x="5703" dy="12">of protein metabolic</tspan><tspan x="5703" dy="12">process</tspan></text>
<rect x="5834" y="686" width="105" height="45"/><text x="5886.5" y="702.5">mRNA metabolic<tspan x="5886.5" dy="12">process</tspan></text>
<rect x="5557" y="782" width="100" height="44"/><text x="5607" y="798">mRNA catabolic<tspan x="5607" dy="12">process</tspan></text>
<rect x="6033" y="872" width="121" height="44"/><text x="6093.5" y="888">negative regulation<tspan x="6093.5" dy="12">of translation</tspan></text>

<rect x="6416" y="208" width="78" height="45"/><text x="6455" y="224.5">biosynthetic<tspan x="6455" dy="12">process</tspan></text>
<rect x="6663" y="208" width="114" height="45"/><text x="6720" y="224.5">organic substance<tspan x="6720" dy="12">metabolic process</tspan></text>
<rect x="6181" y="298" width="130" height="44"/><text x="6246" y="308">organic cyclic<tspan x="6246" dy="12">compound metabolic</tspan><tspan x="6246" dy="12">process</tspan></text>
<rect x="6573" y="298" width="112" height="44"/><text x="6629" y="314">organic substance<tspan x="6629" dy="12">catabolic process</tspan></text>
<rect x="6184" y="388" width="124" height="44"/><text x="6246" y="398">organic cyclic<tspan x="6246" dy="12">compound catabolic</tspan><tspan x="6246" dy="12">process</tspan></text>
<rect x="6378" y="388" width="80" height="44"/><text x="6418" y="398">regulation of<tspan x="6418" dy="12">biosynthetic</tspan><tspan x="6418" dy="12">process</tspan></text>
<rect x="6619" y="388" width="105" height="44"/><text x="6671.5" y="404">amide metabolic<tspan x="6671.5" dy="12">process</tspan></text>
<rect x="6873" y="388" width="114" height="44"/><text x="6930" y="404">macromolecule<tspan x="6930" dy="12">metabolic process</tspan></text>
<rect x="6247" y="484" width="116" height="43"/><text x="6305" y="493.5">positive regulation<tspan x="6305" dy="12">of biosynthetic</tspan><tspan x="6305" dy="12">process</tspan></text>
<rect x="6477" y="484" width="113" height="43"/><text x="6533.5" y="493.5">regulation of<tspan x="6533.5" dy="12">macromolecule</tspan><tspan x="6533.5" dy="12">metabolic process</tspan></text>
<rect x="6658" y="484" width="118" height="43"/><text x="6717" y="499.5">amide biosynthetic<tspan x="6717" dy="12">process</tspan></text>
<rect x="6799" y="484" width="101" height="43"/><text x="6849.5" y="499.5">macromolecule<tspan x="6849.5" dy="12">catabolic process</tspan></text>
<rect x="6156" y="585" width="109" height="44"/><text x="6210.5" y="595">regulation of<tspan x="6210.5" dy="12">protein metabolic</tspan><tspan x="6210.5" dy="12">process</tspan></text>
<rect x="6288" y="585" width="121" height="44"/><text x="6348.5" y="595">negative regulation<tspan x="6348.5" dy="12">of macromolecule</tspan><tspan x="6348.5" dy="12">metabolic process</tspan></text>
<rect x="6522" y="585" width="117" height="44"/><text x="6580.5" y="595">positive regulation<tspan x="6580.5" dy="12">of macromolecule</tspan><tspan x="6580.5" dy="12">metabolic process</tspan></text>
<rect x="6706" y="578" width="97" height="59"/><text x="6754.5" y="589.5">regulation of<tspan x="6754.5" dy="12">macromolecule</tspan><tspan x="6754.5" dy="12">biosynthetic</tspan><tspan x="6754.5" dy="12">process</tspan></text>
<rect x="6872" y="585" width="103" height="44"/><text x="6923.5" y="601">regulation of<tspan x="6923.5" dy="12">gene expression</tspan></text>
<rect x="6148" y="686" width="125" height="45"/><text x="6210.5" y="696.5">positive regulation<tspan x="6210.5" dy="12">of protein metabolic</tspan><tspan x="6210.5" dy="12">process</tspan></text>
<rect x="6295" y="680" width="121" height="58"/><text x="6355.5" y="691">negative regulation<tspan x="6355.5" dy="12">of macromolecule</tspan><tspan x="6355.5" dy="12">biosynthetic</tspan><tspan x="6355.5" dy="12">process</tspan></text>
<rect x="6484" y="686" width="121" height="45"/><text x="6544.5" y="696.5">post-transcriptional<tspan x="6544.5" dy="12">regulation of</tspan><tspan x="6544.5" dy="12">gene expression</tspan></text>
<rect x="6627" y="686" width="121" height="45"/><text x="6687.5" y="702.5">negative regulation<tspan x="6687.5" dy="12">of gene expression</tspan></text>
<rect x="6770" y="680" width="115" height="58"/><text x="6827.5" y="691">positive regulation<tspan x="6827.5" dy="12">of macromolecule</tspan><tspan x="6827.5" dy="12">biosynthetic</tspan><tspan x="6827.5" dy="12">process</tspan></text>
<rect x="6329" y="782" width="81" height="44"/><text x="6369.5" y="798">regulation of<tspan x="6369.5" dy="12">translation</tspan></text>
<rect class="lb" x="6687" y="872" width="116" height="44"/><text x="6745" y="888">positive regulation<tspan x="6745" dy="12">of translation</tspan></text>

<rect x="7253" y="298" width="112" height="44"/><text x="7309" y="308">organic substance<tspan x="7309" dy="12">biosynthetic</tspan><tspan x="7309" dy="12">process</tspan></text>
<rect x="7056" y="388" width="129" height="44"/><text x="7120.5" y="398">organonitrogen<tspan x="7120.5" dy="12">compound metabolic</tspan><tspan x="7120.5" dy="12">process</tspan></text>
<rect x="7022" y="484" width="109" height="43"/><text x="7076.5" y="499.5">protein metabolic<tspan x="7076.5" dy="12">process</tspan></text>
<rect x="7154" y="484" width="102" height="43"/><text x="7205" y="505.5">gene expression</text>
<rect x="7279" y="484" width="111" height="43"/><text x="7334.5" y="499.5">peptide metabolic<tspan x="7334.5" dy="12">process</tspan></text>
<rect x="7412" y="484" width="144" height="43"/><text x="7484" y="493.5">organonitrogen<tspan x="7484" dy="12">compound biosynthetic</tspan><tspan x="7484" dy="12">process</tspan></text>
<rect x="7578" y="484" width="97" height="43"/><text x="7626.5" y="493.5">macromolecule<tspan x="7626.5" dy="12">biosynthetic</tspan><tspan x="7626.5" dy="12">process</tspan></text>
<rect x="7254" y="585" width="126" height="44"/><text x="7317" y="601">peptide biosynthetic<tspan x="7317" dy="12">process</tspan></text>
<rect x="6953" y="686" width="119" height="45"/><text x="7012.5" y="702.5">positive regulation<tspan x="7012.5" dy="12">of gene expression</tspan></text>
<rect x="7095" y="686" width="68" height="45"/><text x="7129" y="708.5">translation</text>
</g>
</svg>
</body></html>
